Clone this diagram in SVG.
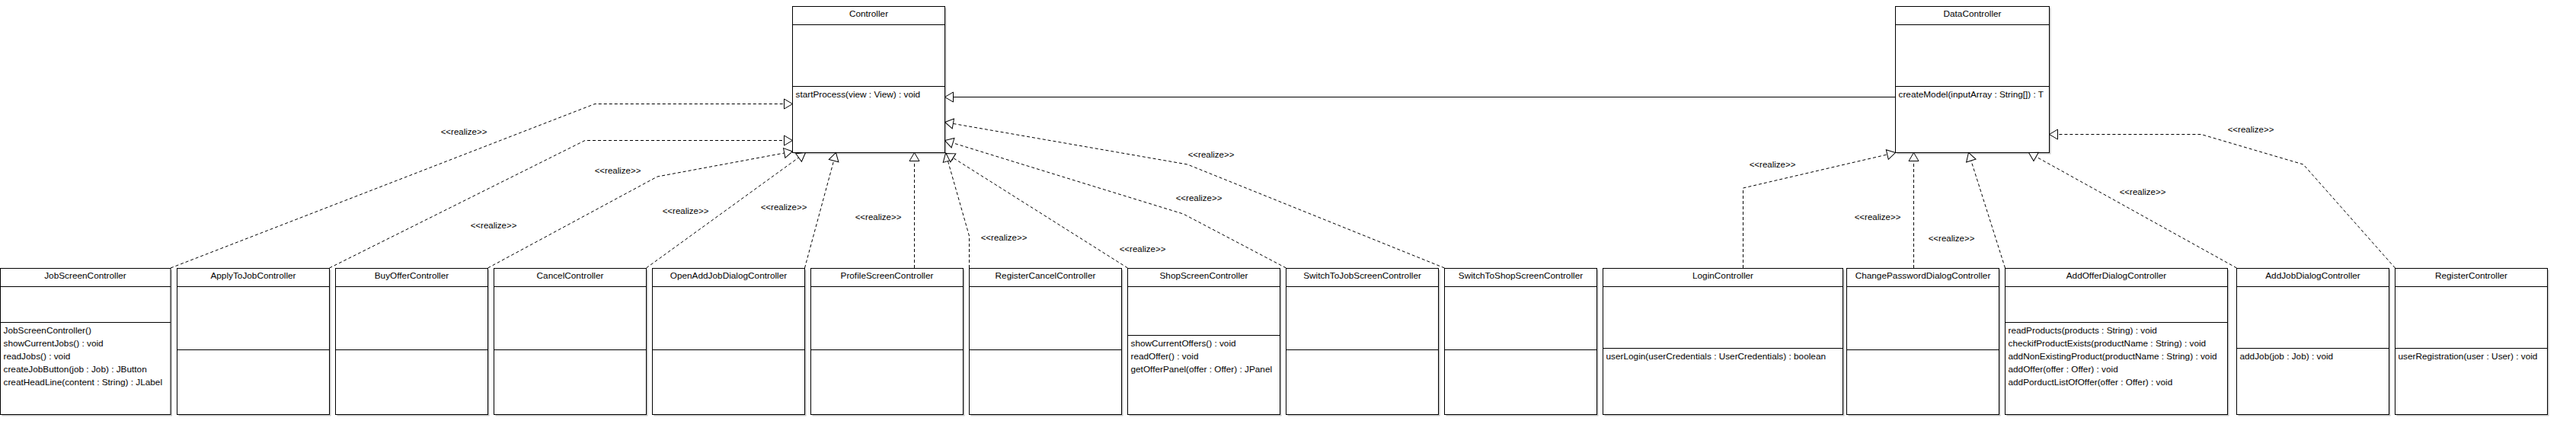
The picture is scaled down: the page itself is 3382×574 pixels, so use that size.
<svg xmlns="http://www.w3.org/2000/svg" width="3382" height="574" viewBox="0 0 3382 574">
<style>
.bg{fill:#ffffff}
.sh{fill:#c8c8c8}
.box{fill:#ffffff;stroke:#000000;stroke-width:1}
.ln{stroke:#000000;stroke-width:1;fill:none}
.t{font-family:"Liberation Sans",Arial,sans-serif;font-size:11.8px;fill:#000000}
.c{text-anchor:middle}
.lbl{font-family:"Liberation Sans",Arial,sans-serif;font-size:11.5px;fill:#000000;text-anchor:middle}
.dash{stroke:#000000;stroke-width:1;fill:none;stroke-dasharray:4,3;marker-end:url(#tri)}
.solid{stroke:#000000;stroke-width:1;fill:none;marker-end:url(#tri)}
</style>
<defs>
<marker id="tri" markerUnits="userSpaceOnUse" viewBox="-1 -8 13 16" markerWidth="13" markerHeight="16" refX="11" refY="0" orient="auto">
<path d="M0,-6.5 L11,0 L0,6.5 Z" fill="#ffffff" stroke="#000000" stroke-width="1" stroke-dasharray="none"/>
</marker>
</defs>
<rect class="bg" x="0" y="0" width="3382" height="574"/>

<g id="Controller">
<rect class="sh" x="1042.5" y="10.5" width="200" height="192"/>
<rect class="box" x="1040.5" y="8.5" width="200" height="192"/>
<line class="ln" x1="1040.5" y1="32.5" x2="1240.5" y2="32.5"/>
<line class="ln" x1="1040.5" y1="113.5" x2="1240.5" y2="113.5"/>
<text class="t c" x="1140.5" y="21.5">Controller</text>
<text class="t" x="1044.5" y="128">startProcess(view : View) : void</text>
</g>

<g id="DataController">
<rect class="sh" x="2490.5" y="10.5" width="202" height="192"/>
<rect class="box" x="2488.5" y="8.5" width="202" height="192"/>
<line class="ln" x1="2488.5" y1="32.5" x2="2690.5" y2="32.5"/>
<line class="ln" x1="2488.5" y1="113.5" x2="2690.5" y2="113.5"/>
<text class="t c" x="2589.5" y="21.5">DataController</text>
<text class="t" x="2492.5" y="128">createModel(inputArray : String[]) : T</text>
</g>

<g id="JobScreenController">
<rect class="sh" x="2.5" y="354.5" width="223.5" height="192"/>
<rect class="box" x="0.5" y="352.5" width="223.5" height="192"/>
<line class="ln" x1="0.5" y1="376.5" x2="224" y2="376.5"/>
<line class="ln" x1="0.5" y1="423.5" x2="224" y2="423.5"/>
<text class="t c" x="112" y="366">JobScreenController</text>
<text class="t" x="4.5" y="438">JobScreenController()</text>
<text class="t" x="4.5" y="455">showCurrentJobs() : void</text>
<text class="t" x="4.5" y="472">readJobs() : void</text>
<text class="t" x="4.5" y="489">createJobButton(job : Job) : JButton</text>
<text class="t" x="4.5" y="506">creatHeadLine(content : String) : JLabel</text>
</g>

<g id="ApplyToJobController">
<rect class="sh" x="234.5" y="354.5" width="200" height="192"/>
<rect class="box" x="232.5" y="352.5" width="200" height="192"/>
<line class="ln" x1="232.5" y1="376.5" x2="432.5" y2="376.5"/>
<line class="ln" x1="232.5" y1="459.5" x2="432.5" y2="459.5"/>
<text class="t c" x="332.5" y="366">ApplyToJobController</text>
</g>

<g id="BuyOfferController">
<rect class="sh" x="442.5" y="354.5" width="200" height="192"/>
<rect class="box" x="440.5" y="352.5" width="200" height="192"/>
<line class="ln" x1="440.5" y1="376.5" x2="640.5" y2="376.5"/>
<line class="ln" x1="440.5" y1="459.5" x2="640.5" y2="459.5"/>
<text class="t c" x="540.5" y="366">BuyOfferController</text>
</g>

<g id="CancelController">
<rect class="sh" x="650.5" y="354.5" width="200" height="192"/>
<rect class="box" x="648.5" y="352.5" width="200" height="192"/>
<line class="ln" x1="648.5" y1="376.5" x2="848.5" y2="376.5"/>
<line class="ln" x1="648.5" y1="459.5" x2="848.5" y2="459.5"/>
<text class="t c" x="748.5" y="366">CancelController</text>
</g>

<g id="OpenAddJobDialogController">
<rect class="sh" x="858.5" y="354.5" width="200" height="192"/>
<rect class="box" x="856.5" y="352.5" width="200" height="192"/>
<line class="ln" x1="856.5" y1="376.5" x2="1056.5" y2="376.5"/>
<line class="ln" x1="856.5" y1="459.5" x2="1056.5" y2="459.5"/>
<text class="t c" x="956.5" y="366">OpenAddJobDialogController</text>
</g>

<g id="ProfileScreenController">
<rect class="sh" x="1066.5" y="354.5" width="200" height="192"/>
<rect class="box" x="1064.5" y="352.5" width="200" height="192"/>
<line class="ln" x1="1064.5" y1="376.5" x2="1264.5" y2="376.5"/>
<line class="ln" x1="1064.5" y1="459.5" x2="1264.5" y2="459.5"/>
<text class="t c" x="1164.5" y="366">ProfileScreenController</text>
</g>

<g id="RegisterCancelController">
<rect class="sh" x="1274.5" y="354.5" width="200" height="192"/>
<rect class="box" x="1272.5" y="352.5" width="200" height="192"/>
<line class="ln" x1="1272.5" y1="376.5" x2="1472.5" y2="376.5"/>
<line class="ln" x1="1272.5" y1="459.5" x2="1472.5" y2="459.5"/>
<text class="t c" x="1372.5" y="366">RegisterCancelController</text>
</g>

<g id="ShopScreenController">
<rect class="sh" x="1482.5" y="354.5" width="200" height="192"/>
<rect class="box" x="1480.5" y="352.5" width="200" height="192"/>
<line class="ln" x1="1480.5" y1="376.5" x2="1680.5" y2="376.5"/>
<line class="ln" x1="1480.5" y1="440.5" x2="1680.5" y2="440.5"/>
<text class="t c" x="1580.5" y="366">ShopScreenController</text>
<text class="t" x="1484.5" y="455">showCurrentOffers() : void</text>
<text class="t" x="1484.5" y="472">readOffer() : void</text>
<text class="t" x="1484.5" y="489">getOfferPanel(offer : Offer) : JPanel</text>
</g>

<g id="SwitchToJobScreenController">
<rect class="sh" x="1690.5" y="354.5" width="200" height="192"/>
<rect class="box" x="1688.5" y="352.5" width="200" height="192"/>
<line class="ln" x1="1688.5" y1="376.5" x2="1888.5" y2="376.5"/>
<line class="ln" x1="1688.5" y1="459.5" x2="1888.5" y2="459.5"/>
<text class="t c" x="1788.5" y="366">SwitchToJobScreenController</text>
</g>

<g id="SwitchToShopScreenController">
<rect class="sh" x="1898.5" y="354.5" width="200" height="192"/>
<rect class="box" x="1896.5" y="352.5" width="200" height="192"/>
<line class="ln" x1="1896.5" y1="376.5" x2="2096.5" y2="376.5"/>
<line class="ln" x1="1896.5" y1="459.5" x2="2096.5" y2="459.5"/>
<text class="t c" x="1996.5" y="366">SwitchToShopScreenController</text>
</g>

<g id="LoginController">
<rect class="sh" x="2106.5" y="354.5" width="315" height="192"/>
<rect class="box" x="2104.5" y="352.5" width="315" height="192"/>
<line class="ln" x1="2104.5" y1="376.5" x2="2419.5" y2="376.5"/>
<line class="ln" x1="2104.5" y1="457.5" x2="2419.5" y2="457.5"/>
<text class="t c" x="2262" y="366">LoginController</text>
<text class="t" x="2108.5" y="472">userLogin(userCredentials : UserCredentials) : boolean</text>
</g>

<g id="ChangePasswordDialogController">
<rect class="sh" x="2426.5" y="354.5" width="200" height="192"/>
<rect class="box" x="2424.5" y="352.5" width="200" height="192"/>
<line class="ln" x1="2424.5" y1="376.5" x2="2624.5" y2="376.5"/>
<line class="ln" x1="2424.5" y1="459.5" x2="2624.5" y2="459.5"/>
<text class="t c" x="2524.5" y="366">ChangePasswordDialogController</text>
</g>

<g id="AddOfferDialogController">
<rect class="sh" x="2634.5" y="354.5" width="292" height="192"/>
<rect class="box" x="2632.5" y="352.5" width="292" height="192"/>
<line class="ln" x1="2632.5" y1="376.5" x2="2924.5" y2="376.5"/>
<line class="ln" x1="2632.5" y1="423.5" x2="2924.5" y2="423.5"/>
<text class="t c" x="2778.5" y="366">AddOfferDialogController</text>
<text class="t" x="2636.5" y="438">readProducts(products : String) : void</text>
<text class="t" x="2636.5" y="455">checkifProductExists(productName : String) : void</text>
<text class="t" x="2636.5" y="472">addNonExistingProduct(productName : String) : void</text>
<text class="t" x="2636.5" y="489">addOffer(offer : Offer) : void</text>
<text class="t" x="2636.5" y="506">addPorductListOfOffer(offer : Offer) : void</text>
</g>

<g id="AddJobDialogController">
<rect class="sh" x="2938.5" y="354.5" width="200" height="192"/>
<rect class="box" x="2936.5" y="352.5" width="200" height="192"/>
<line class="ln" x1="2936.5" y1="376.5" x2="3136.5" y2="376.5"/>
<line class="ln" x1="2936.5" y1="457.5" x2="3136.5" y2="457.5"/>
<text class="t c" x="3036.5" y="366">AddJobDialogController</text>
<text class="t" x="2940.5" y="472">addJob(job : Job) : void</text>
</g>

<g id="RegisterController">
<rect class="sh" x="3146.5" y="354.5" width="200" height="192"/>
<rect class="box" x="3144.5" y="352.5" width="200" height="192"/>
<line class="ln" x1="3144.5" y1="376.5" x2="3344.5" y2="376.5"/>
<line class="ln" x1="3144.5" y1="457.5" x2="3344.5" y2="457.5"/>
<text class="t c" x="3244.5" y="366">RegisterController</text>
<text class="t" x="3148.5" y="472">userRegistration(user : User) : void</text>
</g>

<g id="connectors">
<path class="solid" d="M2488.5,127.5 L1240.5,127.5"/>
<path class="dash" d="M224,352 L781,136.5 L1040.5,136.5"/>
<path class="dash" d="M432.5,352 L768,184.5 L1040.5,184.5"/>
<path class="dash" d="M640.5,352 L863,232 L1040.5,199"/>
<path class="dash" d="M848.5,352 L1057.5,200.5"/>
<path class="dash" d="M1056.5,352 L1097.5,200.5"/>
<path class="dash" d="M1200.5,352 L1200.5,200.5"/>
<path class="dash" d="M1272.5,352 L1272.5,310 L1241.5,201"/>
<path class="dash" d="M1480.5,352 L1242,201.5"/>
<path class="dash" d="M1688.5,352 L1553.5,281 L1240.5,184.5"/>
<path class="dash" d="M1896.5,352 L1559,216 L1240.5,160.5"/>
<path class="dash" d="M2288.5,352 L2288.5,247 L2488.5,200.5"/>
<path class="dash" d="M2512.5,352 L2512.5,200.5"/>
<path class="dash" d="M2632.5,352 L2584.5,200.5"/>
<path class="dash" d="M2936.5,352 L2663.5,200.5"/>
<path class="dash" d="M3144.5,352 L3024,216 L2890,176.5 L2690.5,176.5"/>
<text class="lbl" x="609" y="177">&lt;&lt;realize&gt;&gt;</text>
<text class="lbl" x="811" y="228">&lt;&lt;realize&gt;&gt;</text>
<text class="lbl" x="648" y="300">&lt;&lt;realize&gt;&gt;</text>
<text class="lbl" x="900" y="281">&lt;&lt;realize&gt;&gt;</text>
<text class="lbl" x="1029" y="276">&lt;&lt;realize&gt;&gt;</text>
<text class="lbl" x="1153" y="289">&lt;&lt;realize&gt;&gt;</text>
<text class="lbl" x="1318" y="316">&lt;&lt;realize&gt;&gt;</text>
<text class="lbl" x="1500" y="331">&lt;&lt;realize&gt;&gt;</text>
<text class="lbl" x="1574" y="264">&lt;&lt;realize&gt;&gt;</text>
<text class="lbl" x="1590" y="207">&lt;&lt;realize&gt;&gt;</text>
<text class="lbl" x="2327" y="220">&lt;&lt;realize&gt;&gt;</text>
<text class="lbl" x="2465" y="289">&lt;&lt;realize&gt;&gt;</text>
<text class="lbl" x="2562" y="317">&lt;&lt;realize&gt;&gt;</text>
<text class="lbl" x="2813" y="256">&lt;&lt;realize&gt;&gt;</text>
<text class="lbl" x="2955" y="174">&lt;&lt;realize&gt;&gt;</text>
</g>
</svg>
